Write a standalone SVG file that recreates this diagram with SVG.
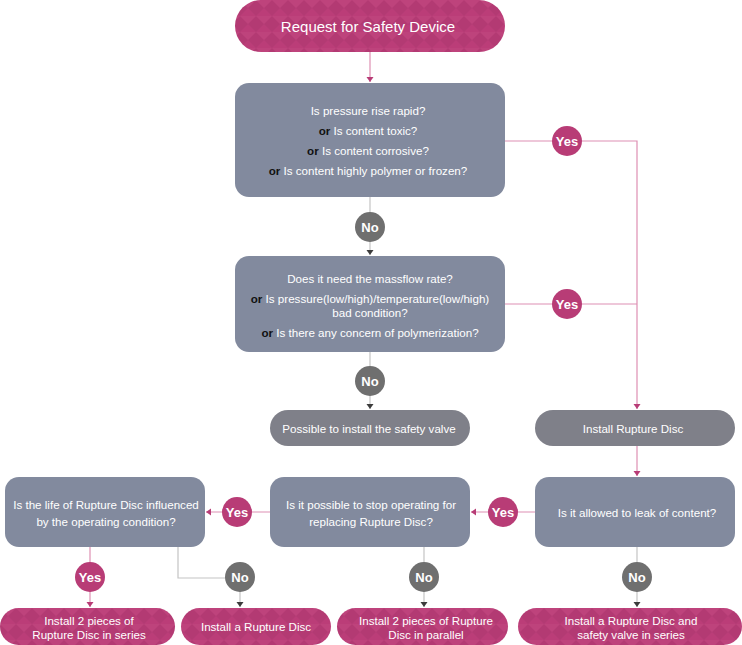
<svg xmlns="http://www.w3.org/2000/svg" width="742" height="645" viewBox="0 0 742 645">
<defs>
<pattern id="pk" patternUnits="userSpaceOnUse" width="16" height="16">
<rect width="16" height="16" fill="#bb3d78"/>
<path d="M0,0 L8,8 L0,16 Z M16,0 L8,8 L16,16 Z" fill="#a9376c" opacity="0.45"/>
<path d="M0,0 L16,0 L8,8 Z" fill="#c34a82" opacity="0.4"/>
</pattern>
<marker id="ap" markerUnits="userSpaceOnUse" markerWidth="8" markerHeight="8" refX="5" refY="4" orient="auto"><path d="M0,0.5 L5,4 L0,7.5 Z" fill="#b83c76"/></marker>
<marker id="ag" markerUnits="userSpaceOnUse" markerWidth="8" markerHeight="8" refX="5" refY="4" orient="auto"><path d="M0,0.5 L5,4 L0,7.5 Z" fill="#3c3c3c"/></marker>
</defs>
<style>
text{font-family:"Liberation Sans",Arial,sans-serif;fill:#fff;text-anchor:middle}
.q{font-size:11.6px}
.t{font-size:15px}
.or{font-weight:bold;fill:#111}
.box{fill:#828a9e}
.gp{fill:#7f8089}
.pp{fill:url(#pk)}
.yc{fill:#b83c76}
.nc{fill:#6f6f6f}
.lbl{font-size:13px;font-weight:bold}
.lp{fill:none;stroke:#de8fb3;stroke-width:1.2}
.lg{fill:none;stroke:#c4c4c4;stroke-width:1.2}
</style>
<g id="connectors">
<path class="lp" d="M370,52 V82" marker-end="url(#ap)"/>
<path class="lg" d="M370,197 V255" marker-end="url(#ag)"/>
<path class="lp" d="M505,141 H637 V409" marker-end="url(#ap)"/>
<path class="lp" d="M505,304 H637"/>
<path class="lg" d="M370,352 V409" marker-end="url(#ag)"/>
<path class="lp" d="M637,446 V476" marker-end="url(#ap)"/>
<path class="lp" d="M535,512 H471" marker-end="url(#ap)"/>
<path class="lp" d="M270,512 H206" marker-end="url(#ap)"/>
<path class="lg" d="M637,547 V607" marker-end="url(#ag)"/>
<path class="lg" d="M424,547 V607" marker-end="url(#ag)"/>
<path class="lp" d="M90,547 V607" marker-end="url(#ap)"/>
<path class="lg" d="M178,547 V578 H240 V607" marker-end="url(#ag)"/>
</g>
<g id="start">
<rect class="pp" x="235" y="0" width="270" height="52" rx="26"/>
<text class="t" x="368" y="31.5">Request for Safety Device</text>
</g>
<g id="q1">
<rect class="box" x="235" y="83" width="270" height="114" rx="14"/>
<text class="q" x="368" y="115">Is pressure rise rapid?</text>
<text class="q" x="368" y="135"><tspan class="or">or</tspan> Is content toxic?</text>
<text class="q" x="368" y="155"><tspan class="or">or</tspan> Is content corrosive?</text>
<text class="q" x="368" y="175"><tspan class="or">or</tspan> Is content highly polymer or frozen?</text>
</g>
<g id="q2">
<rect class="box" x="235" y="256" width="270" height="96" rx="14"/>
<text class="q" x="370" y="283">Does it need the massflow rate?</text>
<text class="q" x="370" y="303"><tspan class="or">or</tspan> Is pressure(low/high)/temperature(low/high)</text>
<text class="q" x="370" y="317">bad condition?</text>
<text class="q" x="370" y="337"><tspan class="or">or</tspan> Is there any concern of polymerization?</text>
</g>
<g id="safety-valve">
<rect class="gp" x="270" y="410" width="200" height="36" rx="18"/>
<text class="q" x="369" y="432.5">Possible to install the safety valve</text>
</g>
<g id="install-rd">
<rect class="gp" x="535" y="410" width="200" height="36" rx="18"/>
<text class="q" x="633" y="432.5">Install Rupture Disc</text>
</g>
<g id="q-leak">
<rect class="box" x="535" y="477" width="200" height="70" rx="14"/>
<text class="q" x="637" y="516.5">Is it allowed to leak of content?</text>
</g>
<g id="q-stop">
<rect class="box" x="270" y="477" width="200" height="70" rx="14"/>
<text class="q" x="371" y="509">Is it possible to stop operating for</text>
<text class="q" x="371" y="526">replacing Rupture Disc?</text>
</g>
<g id="q-life">
<rect class="box" x="5" y="477" width="200" height="70" rx="14"/>
<text class="q" x="106" y="509">Is the life of Rupture Disc influenced</text>
<text class="q" x="106" y="526">by the operating condition?</text>
</g>
<g id="end-series2">
<rect class="pp" x="0" y="608" width="175" height="37" rx="18.5"/>
<text class="q" x="89" y="625">Install 2 pieces of</text>
<text class="q" x="89" y="639">Rupture Disc in series</text>
</g>
<g id="end-single">
<rect class="pp" x="181" y="608" width="150" height="37" rx="18.5"/>
<text class="q" x="256" y="631">Install a Rupture Disc</text>
</g>
<g id="end-parallel">
<rect class="pp" x="337" y="608" width="171" height="37" rx="18.5"/>
<text class="q" x="426" y="625">Install 2 pieces of Rupture</text>
<text class="q" x="426" y="639">Disc in parallel</text>
</g>
<g id="end-valve">
<rect class="pp" x="518" y="608" width="224" height="37" rx="18.5"/>
<text class="q" x="631" y="625">Install a Rupture Disc and</text>
<text class="q" x="631" y="639">safety valve in series</text>
</g>
<g id="labels">
<circle class="yc" cx="567" cy="141" r="15"/><text class="lbl" x="567" y="145.5">Yes</text>
<circle class="yc" cx="567" cy="304" r="15"/><text class="lbl" x="567" y="308.5">Yes</text>
<circle class="nc" cx="370" cy="227" r="15"/><text class="lbl" x="370" y="231.5">No</text>
<circle class="nc" cx="370" cy="381" r="15"/><text class="lbl" x="370" y="385.5">No</text>
<circle class="yc" cx="503" cy="512" r="15"/><text class="lbl" x="503" y="516.5">Yes</text>
<circle class="yc" cx="237" cy="512" r="15"/><text class="lbl" x="237" y="516.5">Yes</text>
<circle class="yc" cx="90" cy="577" r="15"/><text class="lbl" x="90" y="581.5">Yes</text>
<circle class="nc" cx="240" cy="577" r="15"/><text class="lbl" x="240" y="581.5">No</text>
<circle class="nc" cx="424" cy="577" r="15"/><text class="lbl" x="424" y="581.5">No</text>
<circle class="nc" cx="637" cy="577" r="15"/><text class="lbl" x="637" y="581.5">No</text>
</g>
</svg>
